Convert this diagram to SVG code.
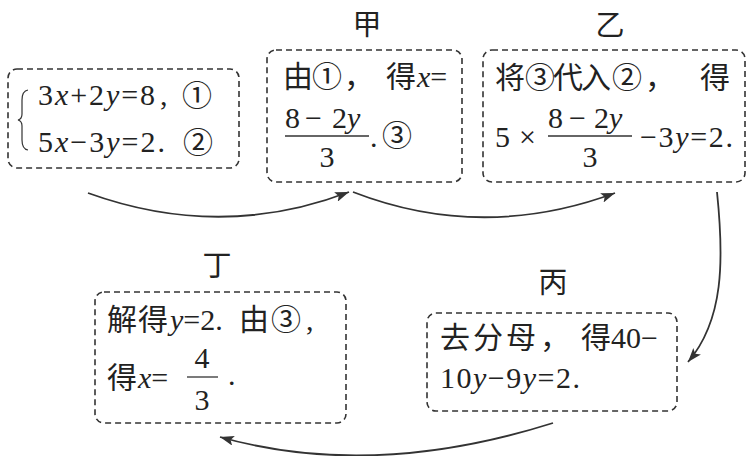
<svg xmlns="http://www.w3.org/2000/svg" width="750" height="456" viewBox="0 0 750 456">
<style>
text{font-family:'Liberation Serif','Noto Sans CJK SC',serif;font-size:30px;fill:#222}
.i{font-style:italic}
.c{font-family:'Noto Sans CJK SC',sans-serif}
.lbl{font-family:'Noto Sans CJK SC',sans-serif;font-size:29px;text-anchor:middle}
.m{text-anchor:middle}
.box{fill:none;stroke:#333;stroke-width:1.6;stroke-dasharray:6 4}
.bar{stroke:#333;stroke-width:1.3}
.arr{fill:none;stroke:#333;stroke-width:1.8}
</style>
<defs>
<marker id="ah" markerUnits="userSpaceOnUse" markerWidth="16" markerHeight="10" refX="14" refY="5" orient="auto">
<path d="M0,0 L14,5 L0,10 L3,5 z" fill="#333"/>
</marker>
</defs>
<g id="connectors">
<path class="arr" d="M88,193 Q221,241 349,192" marker-end="url(#ah)"/>
<path class="arr" d="M353,192 Q482,242 615,193" marker-end="url(#ah)"/>
<path class="arr" d="M717,192 C724,260 724,320 688,362" marker-end="url(#ah)"/>
<path class="arr" d="M553,423 Q372,480 220,437" marker-end="url(#ah)"/>
</g>
<g id="start">
<rect class="box" x="8" y="69" width="231" height="99" rx="9"/>
<path d="M28,90 Q22,91 22,100 L22,114 Q22,119 18,120 Q22,121 22,126 L22,140 Q22,149 28,150" fill="none" stroke="#333" stroke-width="1.2"/>
<text x="38" y="105" textLength="117" lengthAdjust="spacing">3<tspan class="i">x</tspan>+2<tspan class="i">y</tspan>=8</text>
<text x="160" y="105">,</text>
<text class="c" x="182" y="106">①</text>
<text x="38" y="152" textLength="127" lengthAdjust="spacing">5<tspan class="i">x</tspan>−3<tspan class="i">y</tspan>=2.</text>
<text class="c" x="183" y="153">②</text>
</g>
<g id="jia">
<text class="lbl" x="367" y="35">甲</text>
<rect class="box" x="267" y="50" width="195" height="132" rx="9"/>
<text y="87"><tspan x="283">由</tspan><tspan x="312" class="c">①</tspan><tspan x="344">，</tspan><tspan x="386">得</tspan><tspan x="417" class="i">x</tspan>=</text>
<text y="128"><tspan x="285">8</tspan><tspan x="305">−</tspan><tspan x="332">2</tspan><tspan class="i">y</tspan></text>
<line class="bar" x1="285" y1="136" x2="369" y2="136"/>
<text class="m" x="327" y="167">3</text>
<text x="370" y="147">.</text>
<text class="c" x="382" y="146">③</text>
</g>
<g id="yi">
<text class="lbl" x="610" y="36">乙</text>
<rect class="box" x="483" y="50" width="262" height="132" rx="9"/>
<text y="88"><tspan x="495">将</tspan><tspan x="525" class="c">③</tspan><tspan x="553">代</tspan><tspan x="581">入</tspan><tspan x="612" class="c">②</tspan><tspan x="645">，</tspan><tspan x="700">得</tspan></text>
<text y="147"><tspan x="495">5</tspan><tspan x="519">×</tspan></text>
<text y="128"><tspan x="548">8</tspan><tspan x="569">−</tspan><tspan x="594">2</tspan><tspan class="i">y</tspan></text>
<line class="bar" x1="548" y1="136" x2="632" y2="136"/>
<text class="m" x="590" y="167">3</text>
<text x="640" y="147" textLength="93" lengthAdjust="spacing">−3<tspan class="i">y</tspan>=2.</text>
</g>
<g id="bing">
<text class="lbl" x="553" y="293">丙</text>
<rect class="box" x="427" y="313" width="250" height="98" rx="9"/>
<text y="348"><tspan x="440">去</tspan><tspan x="473">分</tspan><tspan x="506">母</tspan><tspan x="540">，</tspan><tspan x="581">得</tspan><tspan x="611">40−</tspan></text>
<text x="440" y="388" textLength="140" lengthAdjust="spacing">10<tspan class="i">y</tspan>−9<tspan class="i">y</tspan>=2.</text>
</g>
<g id="ding">
<text class="lbl" x="217" y="276">丁</text>
<rect class="box" x="95" y="292" width="251" height="131" rx="9"/>
<text y="330"><tspan x="107">解</tspan><tspan x="138">得</tspan><tspan x="170" class="i">y</tspan>=2.<tspan x="239">由</tspan><tspan x="271" class="c">③</tspan><tspan x="306">,</tspan></text>
<text y="388"><tspan x="107">得</tspan><tspan x="138" class="i">x</tspan>=</text>
<text class="m" x="202" y="368">4</text>
<line class="bar" x1="187" y1="377" x2="218" y2="377"/>
<text class="m" x="202" y="410">3</text>
<text x="228" y="385">.</text>
</g>
</svg>
